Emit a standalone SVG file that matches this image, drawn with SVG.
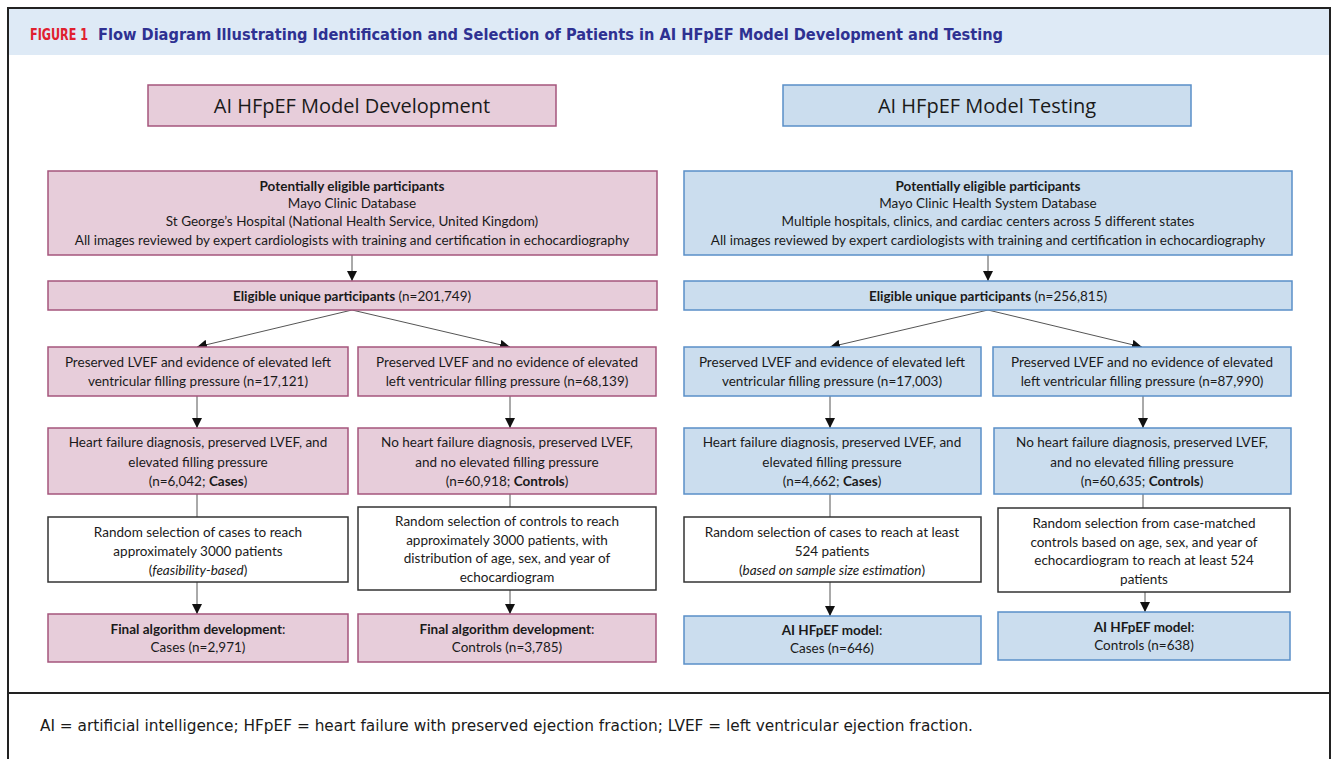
<svg xmlns="http://www.w3.org/2000/svg" width="1336" height="759" viewBox="0 0 1336 759">
<style>
.t{font-family:"Lato","Liberation Sans",sans-serif;font-size:13.5px;fill:#1a1a1a;text-anchor:middle}
.b{font-weight:bold}
.i{font-style:italic}
.pk{fill:#E7CDDA;stroke:#A5557C;stroke-width:1.5}
.bl{fill:#CBDDEE;stroke:#5A8FC8;stroke-width:1.5}
.wh{fill:#fff;stroke:#333;stroke-width:1.5}
.ln{stroke:#555;stroke-width:1;fill:none}
.hd{font-family:"Open Sans","Liberation Sans",sans-serif;font-size:20px;fill:#1a1a1a;text-anchor:middle}
</style>
<defs>
<marker id="ah" viewBox="0 0 10 10" refX="10" refY="5" markerWidth="10" markerHeight="10" markerUnits="userSpaceOnUse" orient="auto">
<path d="M0,0 L10,5 L0,10 z" fill="#111"/>
</marker>
</defs>
<rect width="1336" height="759" fill="#fff"/>
<g id="frame">
<rect x="8" y="8" width="1322" height="47" fill="#DEEAF6"/>
<path d="M8,759 V8 H1330 V759" fill="none" stroke="#222" stroke-width="2"/>
<line x1="8" y1="693" x2="1330" y2="693" stroke="#222" stroke-width="2"/>
<text x="30" y="40" font-family="'DejaVu Sans Condensed','DejaVu Sans',sans-serif" font-weight="bold" font-size="15" fill="#E0202E" textLength="58" lengthAdjust="spacingAndGlyphs">FIGURE 1</text>
<text x="98" y="40" font-family="'DejaVu Sans Condensed','DejaVu Sans',sans-serif" font-weight="bold" font-size="16" fill="#2E3192" textLength="905" lengthAdjust="spacingAndGlyphs">Flow Diagram Illustrating Identification and Selection of Patients in AI HFpEF Model Development and Testing</text>
<text x="40" y="731" font-family="'DejaVu Sans Condensed','DejaVu Sans',sans-serif" font-size="15" fill="#1a1a1a" textLength="933" lengthAdjust="spacingAndGlyphs">AI = artificial intelligence; HFpEF = heart failure with preserved ejection fraction; LVEF = left ventricular ejection fraction.</text>
</g>

<g id="connectors">
<line class="ln" x1="352" y1="255" x2="352" y2="281" marker-end="url(#ah)"/>
<line class="ln" x1="352" y1="310" x2="197" y2="347" marker-end="url(#ah)"/>
<line class="ln" x1="352" y1="310" x2="510" y2="347" marker-end="url(#ah)"/>
<line class="ln" x1="197" y1="396" x2="197" y2="428" marker-end="url(#ah)"/>
<line class="ln" x1="510" y1="396" x2="510" y2="428" marker-end="url(#ah)"/>
<line class="ln" x1="197" y1="494" x2="197" y2="517"/>
<line class="ln" x1="510" y1="494" x2="510" y2="507"/>
<line class="ln" x1="197" y1="582" x2="197" y2="614" marker-end="url(#ah)"/>
<line class="ln" x1="510" y1="590" x2="510" y2="614" marker-end="url(#ah)"/>

<line class="ln" x1="988" y1="255" x2="988" y2="281" marker-end="url(#ah)"/>
<line class="ln" x1="988" y1="310" x2="830" y2="347" marker-end="url(#ah)"/>
<line class="ln" x1="988" y1="310" x2="1142" y2="347" marker-end="url(#ah)"/>
<line class="ln" x1="830" y1="396" x2="830" y2="428" marker-end="url(#ah)"/>
<line class="ln" x1="1143" y1="396" x2="1143" y2="428" marker-end="url(#ah)"/>
<line class="ln" x1="830" y1="494" x2="830" y2="517"/>
<line class="ln" x1="1143" y1="494" x2="1143" y2="508"/>
<line class="ln" x1="830" y1="582" x2="830" y2="616" marker-end="url(#ah)"/>
<line class="ln" x1="1145" y1="592" x2="1145" y2="612" marker-end="url(#ah)"/>
</g>

<g id="dev-title">
<rect class="pk" x="148" y="85" width="408" height="41"/>
<text class="hd" x="352" y="113">AI HFpEF Model Development</text>
</g>
<g id="test-title">
<rect class="bl" x="783" y="85" width="408" height="41"/>
<text class="hd" x="987" y="113">AI HFpEF Model Testing</text>
</g>

<g id="dev-potential">
<rect class="pk" x="48" y="171" width="609" height="84"/>
<text class="t b" x="352" y="191">Potentially eligible participants</text>
<text class="t" x="352" y="208">Mayo Clinic Database</text>
<text class="t" x="352" y="226">St George’s Hospital (National Health Service, United Kingdom)</text>
<text class="t" x="352" y="245">All images reviewed by expert cardiologists with training and certification in echocardiography</text>
</g>
<g id="dev-eligible">
<rect class="pk" x="48" y="281" width="609" height="29"/>
<text class="t" x="352" y="301"><tspan class="b">Eligible unique participants</tspan> (n=201,749)</text>
</g>
<g id="dev-elevated">
<rect class="pk" x="48" y="347" width="300" height="49"/>
<text class="t" x="198" y="367">Preserved LVEF and evidence of elevated left</text>
<text class="t" x="198" y="386">ventricular filling pressure (n=17,121)</text>
</g>
<g id="dev-noelevated">
<rect class="pk" x="358" y="347" width="298" height="49"/>
<text class="t" x="507" y="367">Preserved LVEF and no evidence of elevated</text>
<text class="t" x="507" y="386">left ventricular filling pressure (n=68,139)</text>
</g>
<g id="dev-cases">
<rect class="pk" x="48" y="428" width="300" height="66"/>
<text class="t" x="198" y="447">Heart failure diagnosis, preserved LVEF, and</text>
<text class="t" x="198" y="467">elevated filling pressure</text>
<text class="t" x="198" y="486">(n=6,042; <tspan class="b">Cases</tspan>)</text>
</g>
<g id="dev-controls">
<rect class="pk" x="358" y="428" width="298" height="66"/>
<text class="t" x="507" y="447">No heart failure diagnosis, preserved LVEF,</text>
<text class="t" x="507" y="467">and no elevated filling pressure</text>
<text class="t" x="507" y="486">(n=60,918; <tspan class="b">Controls</tspan>)</text>
</g>
<g id="dev-random-cases">
<rect class="wh" x="48" y="517" width="300" height="65"/>
<text class="t" x="198" y="537">Random selection of cases to reach</text>
<text class="t" x="198" y="556">approximately 3000 patients</text>
<text class="t" x="198" y="575">(<tspan class="i">feasibility-based</tspan>)</text>
</g>
<g id="dev-random-controls">
<rect class="wh" x="358" y="507" width="298" height="83"/>
<text class="t" x="507" y="526">Random selection of controls to reach</text>
<text class="t" x="507" y="545">approximately 3000 patients, with</text>
<text class="t" x="507" y="563">distribution of age, sex, and year of</text>
<text class="t" x="507" y="582">echocardiogram</text>
</g>
<g id="dev-final-cases">
<rect class="pk" x="48" y="614" width="300" height="48"/>
<text class="t" x="198" y="634"><tspan class="b">Final algorithm development</tspan>:</text>
<text class="t" x="198" y="652">Cases (n=2,971)</text>
</g>
<g id="dev-final-controls">
<rect class="pk" x="358" y="614" width="298" height="48"/>
<text class="t" x="507" y="634"><tspan class="b">Final algorithm development</tspan>:</text>
<text class="t" x="507" y="652">Controls (n=3,785)</text>
</g>

<g id="test-potential">
<rect class="bl" x="684" y="171" width="608" height="84"/>
<text class="t b" x="988" y="191">Potentially eligible participants</text>
<text class="t" x="988" y="208">Mayo Clinic Health System Database</text>
<text class="t" x="988" y="226">Multiple hospitals, clinics, and cardiac centers across 5 different states</text>
<text class="t" x="988" y="245">All images reviewed by expert cardiologists with training and certification in echocardiography</text>
</g>
<g id="test-eligible">
<rect class="bl" x="684" y="281" width="608" height="29"/>
<text class="t" x="988" y="301"><tspan class="b">Eligible unique participants</tspan> (n=256,815)</text>
</g>
<g id="test-elevated">
<rect class="bl" x="684" y="347" width="297" height="49"/>
<text class="t" x="832" y="367">Preserved LVEF and evidence of elevated left</text>
<text class="t" x="832" y="386">ventricular filling pressure (n=17,003)</text>
</g>
<g id="test-noelevated">
<rect class="bl" x="993" y="347" width="298" height="49"/>
<text class="t" x="1142" y="367">Preserved LVEF and no evidence of elevated</text>
<text class="t" x="1142" y="386">left ventricular filling pressure (n=87,990)</text>
</g>
<g id="test-cases">
<rect class="bl" x="684" y="428" width="297" height="66"/>
<text class="t" x="832" y="447">Heart failure diagnosis, preserved LVEF, and</text>
<text class="t" x="832" y="467">elevated filling pressure</text>
<text class="t" x="832" y="486">(n=4,662; <tspan class="b">Cases</tspan>)</text>
</g>
<g id="test-controls">
<rect class="bl" x="994" y="428" width="297" height="66"/>
<text class="t" x="1142" y="447">No heart failure diagnosis, preserved LVEF,</text>
<text class="t" x="1142" y="467">and no elevated filling pressure</text>
<text class="t" x="1142" y="486">(n=60,635; <tspan class="b">Controls</tspan>)</text>
</g>
<g id="test-random-cases">
<rect class="wh" x="684" y="517" width="297" height="65"/>
<text class="t" x="832" y="537">Random selection of cases to reach at least</text>
<text class="t" x="832" y="556">524 patients</text>
<text class="t" x="832" y="575">(<tspan class="i">based on sample size estimation</tspan>)</text>
</g>
<g id="test-random-controls">
<rect class="wh" x="998" y="508" width="292" height="84"/>
<text class="t" x="1144" y="528">Random selection from case-matched</text>
<text class="t" x="1144" y="547">controls based on age, sex, and year of</text>
<text class="t" x="1144" y="565">echocardiogram to reach at least 524</text>
<text class="t" x="1144" y="584">patients</text>
</g>
<g id="test-final-cases">
<rect class="bl" x="684" y="616" width="297" height="48"/>
<text class="t" x="832" y="635"><tspan class="b">AI HFpEF model</tspan>:</text>
<text class="t" x="832" y="653">Cases (n=646)</text>
</g>
<g id="test-final-controls">
<rect class="bl" x="998" y="612" width="292" height="48"/>
<text class="t" x="1144" y="632"><tspan class="b">AI HFpEF model</tspan>:</text>
<text class="t" x="1144" y="650">Controls (n=638)</text>
</g>
</svg>
